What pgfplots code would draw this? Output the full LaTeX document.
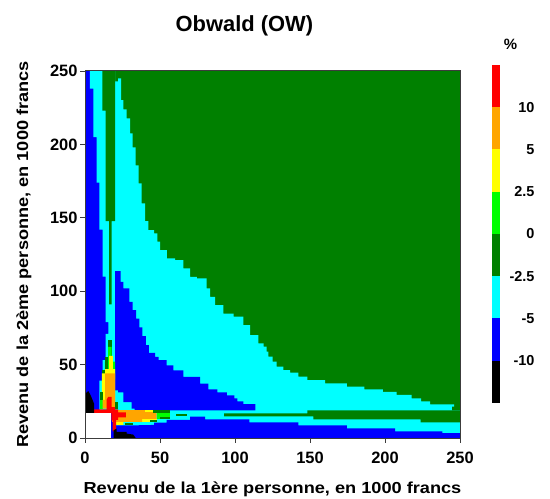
\documentclass[border=0pt]{standalone}
\usepackage{fontspec}
\setmainfont{Liberation Sans}
\newfontfamily\lblfont[FakeStretch=1.14]{Liberation Sans}
\usepackage{pgfplots}
\pgfplotsset{compat=1.18}

\definecolor{cdgreen}{RGB}{0,128,0}
\definecolor{clime}{RGB}{0,255,0}
\definecolor{ccyan}{RGB}{0,255,255}
\definecolor{cblue}{RGB}{0,0,255}
\definecolor{cyellow}{RGB}{255,255,0}
\definecolor{corange}{RGB}{255,165,0}
\definecolor{cred}{RGB}{255,0,0}
\definecolor{axgray}{RGB}{60,60,60}

\pgfplotsset{zone/.style={draw=none,fill=#1,mark=none,forget plot}}

\begin{document}
\begin{tikzpicture}[x=1bp,y=1bp]
\path[use as bounding box] (0,0) rectangle (550,499);
\begin{axis}[
  at={(85bp,61bp)},anchor=origin,
  scale only axis,width=375bp,height=367bp,
  xmin=0,xmax=250,ymin=0,ymax=250,
  xtick={0,50,100,150,200,250},ytick={0,50,100,150,200,250},
  tick align=outside,tick pos=left,
  major tick length=5bp,
  axis on top,
  axis line style={draw=axgray,line width=1pt},
  tick style={draw=axgray,line width=0.8pt},
  /pgf/number format/assume math mode=true,
  ticklabel style={font=\fontsize{16.5}{18}\selectfont\bfseries},
  xticklabel style={yshift=-6bp},
  yticklabel style={xshift=1bp},
  title={\fontsize{22}{24}\selectfont\bfseries Obwald (OW)},
  title style={at={(0.425,1)},anchor=south,yshift=25bp},
  xlabel={\lblfont\fontsize{16}{18}\selectfont\bfseries Revenu de la 1ère personne, en 1000 francs},
  xlabel style={at={(0.5,0)},anchor=north,yshift=-40bp},
  ylabel={\lblfont\fontsize{16}{18}\selectfont\bfseries Revenu de la 2ème personne, en 1000 francs},
  ylabel style={at={(0,0.5)},anchor=south,rotate=0,yshift=50bp},
]
% dark green background
\addplot[zone=cdgreen] coordinates {(0,0) (250,0) (250,250) (0,250)} --cycle;
% main cyan zone
\addplot[zone=ccyan,const plot] coordinates {(20,0) (20,243) (22,243) (22,245) (24,245) (24,230.2) (25.6,230.2) (25.6,223.9) (27.8,223.9) (27.8,217.7) (30,217.7) (30,207.5) (31.8,207.5) (31.8,198) (33.8,198) (33.8,185.7) (35.8,185.7) (35.8,173.4) (37.8,173.4) (37.8,159.8) (40,159.8) (40,147.8) (42.2,147.8) (42.2,141.6) (46,139.4) (48.3,133.7) (50,128) (54.5,122.3) (60,121.2) (65.6,115.5) (70,109.8) (74.5,108.7) (81.1,101.9) (83.4,96.2) (86.7,90.5) (92.3,84.8) (99,82.6) (105.6,76.9) (110,70) (115.6,64.4) (119,62.3) (121,58.8) (122.3,55.4) (125.1,52) (127.8,48.6) (132.3,46.3) (136.7,44.5) (142.3,41.8) (148.3,39.5) (160,39.5) (160,37.2) (174.5,37.2) (174.5,35) (186.3,35) (186.3,33.2) (198.5,33.2) (198.5,31.4) (207.8,31.4) (207.8,29.3) (217.8,29.3) (217.8,27) (224,27) (224,25) (230,25) (230,22.9) (246,22.9) (246,21.3) (244.5,21.3) (244.5,18.8) (250,18.8) (250,0) (20,0)};
% left column
\addplot[zone=cblue] coordinates {(0,0) (20,0) (20,250) (0,250)} --cycle;
\addplot[zone=ccyan] coordinates {(3.3,250) (3.3,238) (5.6,238) (5.6,205) (7.8,205) (7.8,174) (9.5,174) (9.5,142) (11.7,142) (11.7,110) (13.8,110) (13.8,79) (15.6,79) (15.6,71) (13.8,71) (13.8,53) (11.7,53) (11.7,39) (9.6,39) (9.6,19) (20,19) (20,250)} --cycle;
\addplot[zone=cdgreen] coordinates {(11.6,250) (20,250) (20,147.8) (17.8,147.8) (17.8,91) (16,91) (16,147.8) (13.8,147.8) (13.8,223) (11.6,223)} --cycle;
% inner blue wedge
\addplot[zone=cblue,const plot] coordinates {(20,113.6) (23.8,113.6) (23.8,106.4) (25.6,106.4) (25.6,101.9) (29.6,98.9) (29.6,92.8) (31.8,92.8) (31.8,87.1) (34,87.1) (34,81.4) (36.3,81.4) (36.3,75.3) (38.3,75.3) (38.3,69.4) (40.5,69.4) (40.5,63.2) (42.5,63.2) (42.5,58) (46.7,55.3) (49,53) (54.4,49.5) (58.9,46) (65.6,41.6) (76.7,37) (82.3,33.2) (88.3,31.1) (94.5,29.1) (99.6,27) (101.6,25) (105.6,23) (113.6,23) (113.6,18.8) (39,18.8) (33,20) (31,24.5) (25.5,31) (22,32.5) (20,39) (20,113.6)};
% lower blue band
\addplot[zone=cblue] coordinates {(17.5,0) (19,8.6) (32,8.6) (46,8.9) (46,10.4) (54.4,10.4) (54.4,12.3) (70,12.3) (70,14.5) (80,14.5) (80,12.7) (109.6,12.7) (109.6,10.7) (142.3,10.7) (142.3,8.6) (174.5,8.6) (174.5,6.6) (206.7,6.6) (206.7,4.5) (238.2,4.5) (238.2,3.4) (250,3.4) (250,0)} --cycle;
% dark green strip inside the cyan band
\addplot[zone=cdgreen] coordinates {(148.3,18.8) (250,18.8) (250,10.7) (223.8,10.7) (223.8,12.7) (152.3,12.7) (152.3,14.8) (92.7,14.8) (92.7,16.8) (148.3,16.8)} --cycle;
% vertical arm
\addplot[zone=cdgreen] coordinates {(15.4,67) (17.8,67) (17.8,54) (15.4,54)} --cycle;
\addplot[zone=clime] coordinates {(13.3,52) (15.4,52) (15.4,62) (17.8,62) (17.8,52) (20,52) (20,40) (11.8,40) (11.8,46) (13.3,46)} --cycle;
\addplot[zone=cdgreen] coordinates {(13,46) (15.5,46) (15.5,55) (13,55)} --cycle;
\addplot[zone=cdgreen] coordinates {(11.6,42) (13.4,42) (13.4,46) (11.6,46)} --cycle;
\addplot[zone=cyellow] coordinates {(16,56) (18.5,56) (18.5,47) (20,47) (20,24) (11.3,24) (11.3,44) (13.4,44) (13.4,47) (16,47)} --cycle;
\addplot[zone=clime] coordinates {(9.8,20) (11.8,20) (11.8,31) (9.8,31)} --cycle;
\addplot[zone=cdgreen] coordinates {(9.8,26) (11.8,26) (11.8,31) (9.8,31)} --cycle;
\addplot[zone=corange] coordinates {(13.4,44) (20,44) (20,20) (11.8,20) (11.8,26) (13.4,26)} --cycle;
\addplot[zone=cdgreen] coordinates {(20,20) (22.2,20) (22.2,24.5) (20,24.5)} --cycle;
% horizontal arm
\addplot[zone=cyellow] coordinates {(20,11) (21,8.9) (25.5,8.9) (25.5,11)} --cycle;
\addplot[zone=cyellow] coordinates {(38,11) (47.8,11) (47.8,13) (38,13)} --cycle;
\addplot[zone=cdgreen] coordinates {(26.7,8.6) (32.2,8.6) (32.2,10.2) (26.7,10.2)} --cycle;
\addplot[zone=corange] coordinates {(18,11) (38,11) (38,13) (47.8,13) (47.8,17.7) (40,17.7) (40,19) (18,19)} --cycle;
\addplot[zone=cyellow] coordinates {(40,17.7) (47.8,17.7) (47.8,19) (40,19)} --cycle;
\addplot[zone=clime] coordinates {(47.8,12.7) (56.7,12.7) (56.7,16.8) (47.8,16.8)} --cycle;
\addplot[zone=cdgreen] coordinates {(45.5,16.8) (56.7,16.8) (56.7,18.8) (45.5,18.8)} --cycle;
\addplot[zone=cdgreen] coordinates {(50,12.7) (56.7,12.7) (56.7,14.3) (50,14.3)} --cycle;
\addplot[zone=cdgreen] coordinates {(43,11) (48,11) (48,12.5) (43,12.5)} --cycle;
\addplot[zone=cdgreen] coordinates {(60.7,14.8) (68.2,14.8) (68.2,16.5) (60.7,16.5)} --cycle;
% red star
\addplot[zone=cred] coordinates {(5.5,17) (5.5,19.5) (14.4,19.5) (14.4,26) (15.4,28) (17.8,28) (17.8,21) (20,21) (20,19.5) (22,19.5) (22,17.5) (27.3,17.5) (27.3,14) (22,14) (22,12.3) (20.7,12.3) (20.7,4.5) (18.4,4.5) (18.4,12) (17.5,12) (17.5,17)} --cycle;
% black corners
\addplot[zone=black] coordinates {(0,17) (0,30) (2.2,32) (3.8,29) (6,23.5) (6,17)} --cycle;
\addplot[zone=black] coordinates {(19,0) (19,5.2) (21,6.4) (21,4.1) (27.8,4.1) (27.8,3) (32.2,2.3) (33.8,0)} --cycle;
% no data
\addplot[zone=white] coordinates {(0,0) (17.5,0) (17.5,17) (0,17)} --cycle;
\end{axis}
% colour scale
\begin{axis}[
  at={(492bp,96bp)},anchor=origin,
  scale only axis,width=8bp,height=338bp,
  xmin=0,xmax=1,ymin=0,ymax=8,
  xtick=\empty,ytick={1,2,3,4,5,6,7},
  yticklabels={-10,-5,-2.5,0,2.5,5,10},
  yticklabel pos=right,
  axis line style={draw=none},
  tick style={draw=none},
  yticklabel style={font=\fontsize{14.5}{16}\selectfont\bfseries,anchor=east,xshift=38bp},
]
\addplot[zone=black] coordinates {(0,0) (1,0) (1,1) (0,1)} --cycle;
\addplot[zone=cblue] coordinates {(0,1) (1,1) (1,2) (0,2)} --cycle;
\addplot[zone=ccyan] coordinates {(0,2) (1,2) (1,3) (0,3)} --cycle;
\addplot[zone=cdgreen] coordinates {(0,3) (1,3) (1,4) (0,4)} --cycle;
\addplot[zone=clime] coordinates {(0,4) (1,4) (1,5) (0,5)} --cycle;
\addplot[zone=cyellow] coordinates {(0,5) (1,5) (1,6) (0,6)} --cycle;
\addplot[zone=corange] coordinates {(0,6) (1,6) (1,7) (0,7)} --cycle;
\addplot[zone=cred] coordinates {(0,7) (1,7) (1,8) (0,8)} --cycle;
\end{axis}
\node[anchor=center,font=\fontsize{15}{16}\selectfont\bfseries] at (510.5,455) {\%};
\end{tikzpicture}
\end{document}
